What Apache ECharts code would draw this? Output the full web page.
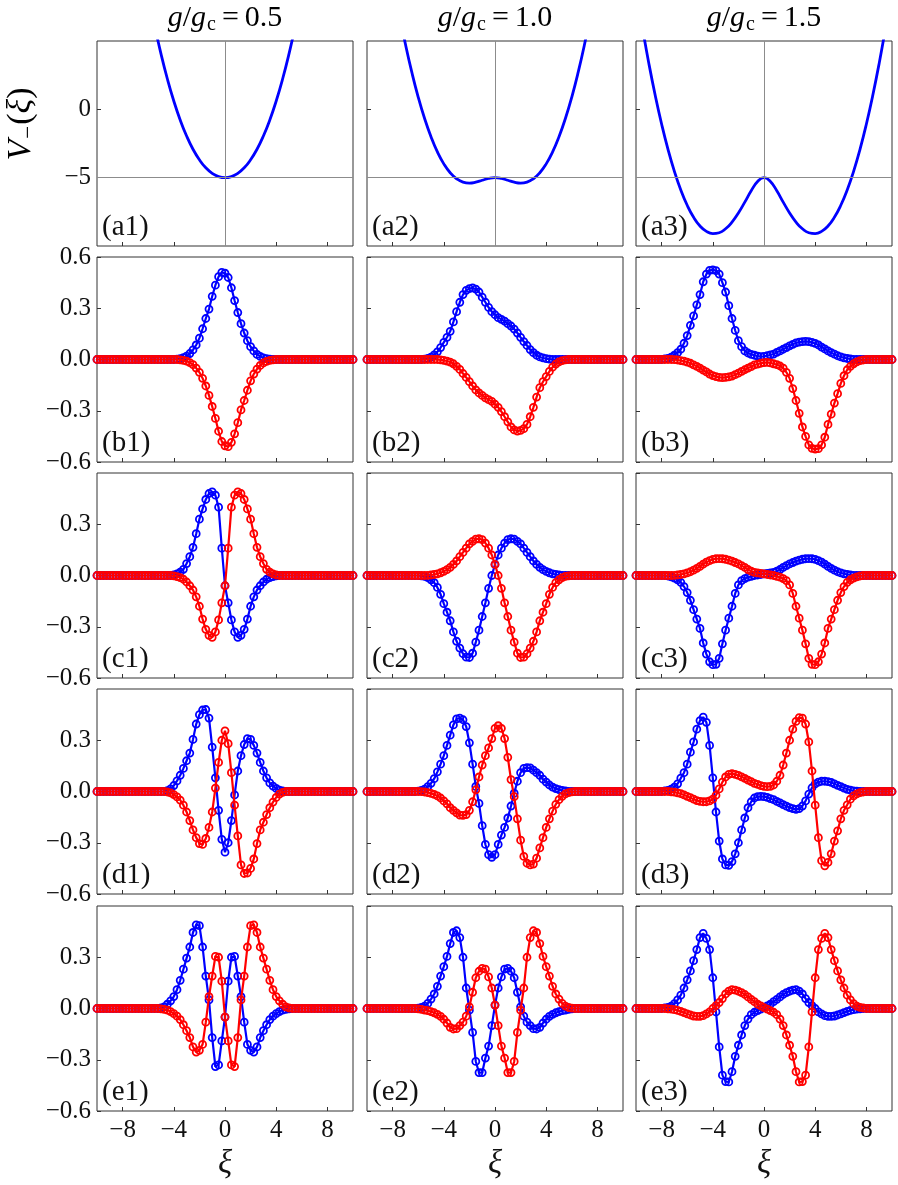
<!DOCTYPE html>
<html lang="en">
<head>
    <meta charset="UTF-8">
    <title>V_-(xi) and wavefunctions</title>
    <script src="https://cdn.jsdelivr.net/npm/echarts@6/dist/echarts.min.js"></script>
    <style>
        html, body { margin: 0; padding: 0; background: #fff; }
        #main { width: 898px; height: 1185px; }
    </style>
</head>
<body>

<div id="main"></div>

<script type="text/javascript">
    // grid of xi values (step 0.25) used by all wavefunction curves
    var xi = [
        -10,-9.75,-9.5,-9.25, -9,-8.75,-8.5,-8.25, -8,-7.75,-7.5,-7.25, -7,-6.75,-6.5,-6.25, -6,-5.75,-5.5,-5.25,
        -5,-4.75,-4.5,-4.25, -4,-3.75,-3.5,-3.25, -3,-2.75,-2.5,-2.25, -2,-1.75,-1.5,-1.25, -1,-0.75,-0.5,-0.25,
        0,0.25,0.5,0.75, 1,1.25,1.5,1.75, 2,2.25,2.5,2.75, 3,3.25,3.5,3.75, 4,4.25,4.5,4.75,
        5,5.25,5.5,5.75, 6,6.25,6.5,6.75, 7,7.25,7.5,7.75, 8,8.25,8.5,8.75, 9,9.25,9.5,9.75, 10
    ];

    // grid for the potentials (step 0.5)
    var xiPot = [-10,-9.5,-9,-8.5,-8,-7.5,-7,-6.5,-6,-5.5,-5,-4.5,-4,-3.5,-3,-2.5,-2,-1.5,-1,-0.5,
        0,0.5,1,1.5,2,2.5,3,3.5,4,4.5,5,5.5,6,6.5,7,7.5,8,8.5,9,9.5,10];

    var potA1 = [35.51,31.27,27.28,23.53,20.03,16.76,13.75,10.97,8.43,6.13,4.06,2.22,0.61,-0.78,-1.95,-2.92,-3.69,-4.28,-4.68,-4.92,
        -5,-4.92,-4.68,-4.28,-3.69,-2.92,-1.95,-0.78,0.61,2.22,4.06,6.13,8.43,10.97,13.75,16.76,20.03,23.53,27.28,31.27,35.51];
    var potA2 = [22.3,18.76,15.47,12.43,9.64,7.09,4.78,2.72,0.90,-0.67,-2.01,-3.12,-3.99,-4.64,-5.08,-5.33,-5.40,-5.33,-5.19,-5.06,
        -5,-5.06,-5.19,-5.33,-5.40,-5.33,-5.08,-4.64,-3.99,-3.12,-2.01,-0.67,0.90,2.72,4.78,7.09,9.64,12.43,15.47,18.76,22.3];
    var potA3 = [8.83,5.98,3.38,1.03,-1.07,-2.93,-4.54,-5.90,-7.02,-7.90,-8.54,-8.93,-9.09,-9.03,-8.74,-8.25,-7.58,-6.79,-5.96,-5.28,
        -5,-5.28,-5.96,-6.79,-7.58,-8.25,-8.74,-9.03,-9.09,-8.93,-8.54,-7.90,-7.02,-5.90,-4.54,-2.93,-1.07,1.03,3.38,5.98,8.83];

    // ---- column 1 : g/gc = 0.5 ----
    var blueB1 = [
        0,0,0,0, 0,0,0,0, 0,0,0,0, 0,0,0,0, 0,0,0,0,
        0,0,0,0, 0,0.002,0.005,0.011, 0.02,0.035,0.056,0.085, 0.125,0.18,0.24,0.295, 0.37,0.435,0.485,0.51,
        0.505,0.48,0.42,0.345, 0.275,0.21,0.155,0.11, 0.075,0.05,0.03,0.018, 0.01,0.005,0.002,0, 0,0,0,0,
        0,0,0,0, 0,0,0,0, 0,0,0,0, 0,0,0,0, 0,0,0,0, 0];
    var redB1 = [
        0,0,0,0, 0,0,0,0, 0,0,0,0, 0,0,0,0, 0,0,0,0,
        0,0,0,0, 0,0,-0.002,-0.005, -0.01,-0.018,-0.03,-0.05, -0.075,-0.11,-0.155,-0.21, -0.275,-0.345,-0.42,-0.48,
        -0.505,-0.51,-0.485,-0.435, -0.37,-0.295,-0.24,-0.18, -0.125,-0.085,-0.056,-0.035, -0.02,-0.011,-0.005,-0.002, 0,0,0,0,
        0,0,0,0, 0,0,0,0, 0,0,0,0, 0,0,0,0, 0,0,0,0, 0];
    var blueC1 = [
        0,0,0,0, 0,0,0,0, 0,0,0,0, 0,0,0,0, 0,0,0,0,
        0,0,0,0, 0.003,0.01,0.02,0.036, 0.07,0.11,0.165,0.245, 0.33,0.39,0.445,0.48, 0.49,0.47,0.40,0.16,
        -0.06,-0.16,-0.26,-0.33, -0.362,-0.35,-0.315,-0.255, -0.18,-0.125,-0.085,-0.06, -0.038,-0.022,-0.012,-0.006, -0.002,0,0,0,
        0,0,0,0, 0,0,0,0, 0,0,0,0, 0,0,0,0, 0,0,0,0, 0];
    var redC1 = [
        0,0,0,0, 0,0,0,0, 0,0,0,0, 0,0,0,0, 0,0,0,0,
        0,0,0,0, -0.002,-0.006,-0.012,-0.022, -0.038,-0.06,-0.085,-0.125, -0.18,-0.255,-0.315,-0.35, -0.362,-0.33,-0.26,-0.16,
        -0.06,0.16,0.40,0.47, 0.49,0.48,0.445,0.39, 0.33,0.245,0.165,0.11, 0.07,0.036,0.02,0.01, 0.003,0,0,0,
        0,0,0,0, 0,0,0,0, 0,0,0,0, 0,0,0,0, 0,0,0,0, 0];
    var blueD1 = [
        0,0,0,0, 0,0,0,0, 0,0,0,0, 0,0,0,0, 0,0,0,0,
        0,0,0.005,0.015, 0.035,0.062,0.095,0.135, 0.18,0.225,0.305,0.395, 0.45,0.477,0.48,0.43, 0.26,0.08,-0.11,-0.28,
        -0.355,-0.30,-0.17,-0.02, 0.12,0.21,0.275,0.31, 0.305,0.27,0.225,0.17, 0.12,0.08,0.05,0.032, 0.018,0.008,0.003,0,
        0,0,0,0, 0,0,0,0, 0,0,0,0, 0,0,0,0, 0,0,0,0, 0];
    var redD1 = [
        0,0,0,0, 0,0,0,0, 0,0,0,0, 0,0,0,0, 0,0,0,0,
        0,0,-0.003,-0.008, -0.018,-0.032,-0.05,-0.08, -0.12,-0.17,-0.225,-0.27, -0.305,-0.31,-0.275,-0.21, -0.12,0.02,0.17,0.30,
        0.355,0.28,0.11,-0.08, -0.26,-0.43,-0.48,-0.477, -0.45,-0.395,-0.305,-0.225, -0.18,-0.135,-0.095,-0.062, -0.035,-0.015,-0.005,0,
        0,0,0,0, 0,0,0,0, 0,0,0,0, 0,0,0,0, 0,0,0,0, 0];
    var blueE1 = [
        0,0,0,0, 0,0,0,0, 0,0,0,0, 0,0,0,0, 0,0,0,0,
        0.003,0.01,0.025,0.045, 0.07,0.11,0.165,0.23, 0.295,0.36,0.445,0.49, 0.485,0.36,0.19,0.05, -0.17,-0.34,-0.33,-0.19,
        -0.05,0.16,0.30,0.305, 0.19,0.07,-0.08,-0.21, -0.245,-0.255,-0.225,-0.17, -0.13,-0.095,-0.065,-0.045, -0.03,-0.018,-0.01,-0.005,
        -0.002,0,0,0, 0,0,0,0, 0,0,0,0, 0,0,0,0, 0,0,0,0, 0];
    var redE1 = [
        0,0,0,0, 0,0,0,0, 0,0,0,0, 0,0,0,0, 0,0,0,0,
        -0.002,-0.005,-0.01,-0.018, -0.03,-0.045,-0.065,-0.095, -0.13,-0.17,-0.225,-0.255, -0.245,-0.21,-0.08,0.07, 0.19,0.305,0.30,0.16,
        -0.05,-0.19,-0.33,-0.34, -0.17,0.05,0.19,0.36, 0.485,0.49,0.445,0.36, 0.295,0.23,0.165,0.11, 0.07,0.045,0.025,0.01,
        0.003,0,0,0, 0,0,0,0, 0,0,0,0, 0,0,0,0, 0,0,0,0, 0];

    // ---- column 2 : g/gc = 1.0 ----
    var blueB2 = [
        0,0,0,0, 0,0,0,0, 0,0,0,0, 0,0,0,0, 0,0,0.002,0.006,
        0.014,0.027,0.045,0.07, 0.1,0.13,0.165,0.22, 0.28,0.335,0.38,0.405, 0.415,0.419,0.412,0.395, 0.365,0.335,0.305,0.28,
        0.262,0.245,0.235,0.225, 0.21,0.196,0.178,0.155, 0.13,0.105,0.082,0.058, 0.04,0.025,0.015,0.009, 0.005,0.002,0,0,
        0,0,0,0, 0,0,0,0, 0,0,0,0, 0,0,0,0, 0,0,0,0, 0];
    var redB2 = [
        0,0,0,0, 0,0,0,0, 0,0,0,0, 0,0,0,0, 0,0,0,0,
        0,0,0,-0.002, -0.005,-0.009,-0.015,-0.025, -0.04,-0.058,-0.082,-0.105, -0.13,-0.155,-0.178,-0.196, -0.21,-0.225,-0.235,-0.245,
        -0.262,-0.28,-0.305,-0.335, -0.365,-0.395,-0.412,-0.419, -0.415,-0.405,-0.38,-0.335, -0.28,-0.22,-0.165,-0.13, -0.1,-0.07,-0.045,-0.027,
        -0.014,-0.006,-0.002,0, 0,0,0,0, 0,0,0,0, 0,0,0,0, 0,0,0,0, 0];
    var blueC2 = [
        0,0,0,0, 0,0,0,0, 0,0,0,0, 0,0,0,0, 0,-0.002,-0.005,-0.012,
        -0.025,-0.042,-0.07,-0.11, -0.165,-0.215,-0.265,-0.33, -0.385,-0.425,-0.458,-0.478, -0.48,-0.455,-0.39,-0.32, -0.24,-0.16,-0.075,0,
        0.065,0.12,0.16,0.19, 0.21,0.215,0.213,0.2, 0.185,0.16,0.135,0.11, 0.085,0.065,0.048,0.034, 0.024,0.016,0.01,0.006,
        0.003,0.001,0,0, 0,0,0,0, 0,0,0,0, 0,0,0,0, 0,0,0,0, 0];
    var redC2 = [
        0,0,0,0, 0,0,0,0, 0,0,0,0, 0,0,0,0, 0,0,0,0.001,
        0.003,0.006,0.01,0.016, 0.024,0.034,0.048,0.065, 0.085,0.11,0.135,0.16, 0.185,0.2,0.213,0.215, 0.21,0.19,0.16,0.12,
        0.065,0,-0.075,-0.16, -0.24,-0.32,-0.39,-0.455, -0.48,-0.478,-0.458,-0.425, -0.385,-0.33,-0.265,-0.215, -0.165,-0.11,-0.07,-0.042,
        -0.025,-0.012,-0.005,-0.002, 0,0,0,0, 0,0,0,0, 0,0,0,0, 0,0,0,0, 0];
    var blueD2 = [
        0,0,0,0, 0,0,0,0, 0,0,0,0, 0,0,0,0, 0.002,0.006,0.014,0.028,
        0.048,0.075,0.115,0.16, 0.21,0.27,0.33,0.39, 0.425,0.43,0.42,0.38, 0.285,0.16,0.03,-0.07, -0.2,-0.31,-0.37,-0.385,
        -0.37,-0.31,-0.255,-0.21, -0.155,-0.085,-0.01,0.06, 0.11,0.135,0.14,0.138, 0.125,0.11,0.095,0.072, 0.055,0.038,0.026,0.017,
        0.011,0.006,0.003,0.001, 0,0,0,0, 0,0,0,0, 0,0,0,0, 0,0,0,0, 0];
    var redD2 = [
        0,0,0,0, 0,0,0,0, 0,0,0,0, 0,0,0,0, 0,-0.001,-0.003,-0.006,
        -0.011,-0.017,-0.026,-0.038, -0.055,-0.072,-0.095,-0.11, -0.125,-0.138,-0.14,-0.135, -0.11,-0.06,0.01,0.085, 0.155,0.21,0.255,0.31,
        0.37,0.385,0.37,0.31, 0.2,0.07,-0.03,-0.16, -0.285,-0.38,-0.42,-0.43, -0.425,-0.39,-0.33,-0.27, -0.21,-0.16,-0.115,-0.075,
        -0.048,-0.028,-0.014,-0.006, -0.002,0,0,0, 0,0,0,0, 0,0,0,0, 0,0,0,0, 0];
    var blueE2 = [
        0,0,0,0, 0,0,0,0, 0,0,0,0, 0,0,0,0, 0.002,0.006,0.014,0.03,
        0.055,0.085,0.13,0.19, 0.245,0.305,0.38,0.445, 0.455,0.415,0.30,0.12, -0.01,-0.14,-0.31,-0.375, -0.375,-0.29,-0.22,-0.1,
        0.02,0.12,0.185,0.23, 0.235,0.218,0.18,0.095, 0.01,-0.045,-0.08,-0.1, -0.118,-0.12,-0.11,-0.085, -0.063,-0.046,-0.034,-0.025,
        -0.018,-0.013,-0.009,-0.005, -0.002,0,0,0, 0,0,0,0, 0,0,0,0, 0,0,0,0, 0];
    var redE2 = [
        0,0,0,0, 0,0,0,0, 0,0,0,0, 0,0,0,0, -0.002,-0.005,-0.009,-0.013,
        -0.018,-0.025,-0.034,-0.046, -0.063,-0.085,-0.11,-0.12, -0.118,-0.1,-0.08,-0.045, 0.01,0.095,0.18,0.218, 0.235,0.23,0.185,0.12,
        0.02,-0.1,-0.22,-0.29, -0.375,-0.375,-0.31,-0.14, -0.01,0.12,0.30,0.415, 0.455,0.445,0.38,0.305, 0.245,0.19,0.13,0.085,
        0.055,0.03,0.014,0.006, 0.002,0,0,0, 0,0,0,0, 0,0,0,0, 0,0,0,0, 0];

    // ---- column 3 : g/gc = 1.5 ----
    var blueB3 = [
        0,0,0,0, 0,0,0,0, 0,0.003,0.007,0.014, 0.025,0.04,0.06,0.095, 0.14,0.2,0.255,0.32,
        0.38,0.455,0.5,0.522, 0.525,0.52,0.5,0.45, 0.395,0.315,0.24,0.17, 0.11,0.075,0.05,0.038, 0.03,0.025,0.02,0.017,
        0.018,0.022,0.027,0.032, 0.042,0.05,0.06,0.07, 0.08,0.089,0.097,0.102, 0.105,0.106,0.105,0.1, 0.094,0.085,0.073,0.062,
        0.05,0.04,0.031,0.022, 0.015,0.01,0.006,0.003, 0.001,0,0,0, 0,0,0,0, 0,0,0,0, 0];
    var redB3 = [
        0,0,0,0, 0,0,0,0, 0,0,0,0, -0.001,-0.003,-0.006,-0.01, -0.015,-0.022,-0.031,-0.04,
        -0.05,-0.062,-0.073,-0.085, -0.094,-0.1,-0.105,-0.106, -0.105,-0.102,-0.097,-0.089, -0.08,-0.07,-0.06,-0.05, -0.042,-0.032,-0.027,-0.022,
        -0.018,-0.017,-0.02,-0.025, -0.03,-0.038,-0.05,-0.075, -0.11,-0.17,-0.24,-0.315, -0.395,-0.45,-0.5,-0.52, -0.525,-0.522,-0.5,-0.455,
        -0.38,-0.32,-0.255,-0.2, -0.14,-0.095,-0.06,-0.04, -0.025,-0.014,-0.007,-0.003, 0,0,0,0, 0,0,0,0, 0];
    var blueC3 = [
        0,0,0,0, 0,0,0,0, 0,0,-0.003,-0.008, -0.015,-0.025,-0.04,-0.065, -0.1,-0.145,-0.2,-0.255,
        -0.31,-0.395,-0.46,-0.505, -0.522,-0.52,-0.485,-0.4, -0.32,-0.25,-0.18,-0.105, -0.055,-0.03,-0.018,-0.01, -0.005,0,0.003,0.006,
        0.009,0.012,0.015,0.018, 0.025,0.035,0.047,0.058, 0.068,0.076,0.084,0.09, 0.095,0.098,0.099,0.098, 0.094,0.087,0.078,0.067,
        0.054,0.042,0.031,0.022, 0.015,0.01,0.006,0.003, 0.001,0,0,0, 0,0,0,0, 0,0,0,0, 0];
    var redC3 = [
        0,0,0,0, 0,0,0,0, 0,0,0,0, 0.001,0.003,0.006,0.01, 0.015,0.022,0.031,0.042,
        0.054,0.067,0.078,0.087, 0.094,0.098,0.099,0.098, 0.095,0.09,0.084,0.076, 0.068,0.058,0.047,0.035, 0.025,0.018,0.015,0.012,
        0.009,0.006,0.003,0, -0.005,-0.01,-0.018,-0.03, -0.055,-0.105,-0.18,-0.25, -0.32,-0.4,-0.485,-0.52, -0.522,-0.505,-0.46,-0.395,
        -0.31,-0.255,-0.2,-0.145, -0.1,-0.065,-0.04,-0.025, -0.015,-0.008,-0.003,0, 0,0,0,0, 0,0,0,0, 0];
    var blueD3 = [
        0,0,0,0, 0,0,0,0, 0,0.003,0.007,0.014, 0.026,0.045,0.078,0.11, 0.16,0.23,0.29,0.365,
        0.415,0.435,0.405,0.27, 0.08,-0.12,-0.29,-0.395, -0.43,-0.432,-0.41,-0.365, -0.3,-0.225,-0.155,-0.095, -0.06,-0.038,-0.03,-0.028,
        -0.03,-0.034,-0.042,-0.048, -0.058,-0.067,-0.077,-0.086, -0.094,-0.1,-0.105,-0.1, -0.085,-0.055,-0.015,0.022, 0.045,0.055,0.06,0.06,
        0.058,0.053,0.045,0.036, 0.028,0.02,0.013,0.008, 0.004,0.002,0,0, 0,0,0,0, 0,0,0,0, 0];
    var redD3 = [
        0,0,0,0, 0,0,0,0, 0,0,0,-0.002, -0.004,-0.008,-0.013,-0.02, -0.028,-0.036,-0.045,-0.053,
        -0.058,-0.06,-0.06,-0.055, -0.045,-0.022,0.015,0.055, 0.085,0.1,0.105,0.1, 0.094,0.086,0.077,0.067, 0.058,0.048,0.042,0.034,
        0.03,0.028,0.03,0.038, 0.06,0.095,0.155,0.225, 0.3,0.365,0.41,0.432, 0.43,0.395,0.29,0.12, -0.08,-0.27,-0.405,-0.435,
        -0.415,-0.365,-0.29,-0.23, -0.16,-0.11,-0.078,-0.045, -0.026,-0.014,-0.007,-0.003, 0,0,0,0, 0,0,0,0, 0];
    var blueE3 = [
        0,0,0,0, 0,0,0,0, 0,0.003,0.007,0.014, 0.028,0.05,0.078,0.12, 0.168,0.22,0.28,0.345,
        0.415,0.44,0.41,0.345, 0.18,-0.02,-0.225,-0.39, -0.428,-0.43,-0.37,-0.28, -0.215,-0.155,-0.1,-0.062, -0.036,-0.022,-0.012,-0.004,
        0.005,0.015,0.025,0.04, 0.054,0.068,0.082,0.093, 0.101,0.108,0.111,0.102, 0.085,0.058,0.035,0.017, 0,-0.02,-0.032,-0.042,
        -0.046,-0.046,-0.044,-0.038, -0.032,-0.024,-0.017,-0.011, -0.007,-0.004,-0.002,0, 0,0,0,0, 0,0,0,0, 0];
    var redE3 = [
        0,0,0,0, 0,0,0,0, 0,0,-0.002,-0.004, -0.007,-0.011,-0.017,-0.024, -0.032,-0.038,-0.044,-0.046,
        -0.046,-0.042,-0.032,-0.02, 0,0.017,0.035,0.058, 0.085,0.102,0.111,0.108, 0.101,0.093,0.082,0.068, 0.054,0.04,0.025,0.015,
        0.005,-0.004,-0.012,-0.022, -0.036,-0.062,-0.1,-0.155, -0.215,-0.28,-0.37,-0.43, -0.428,-0.39,-0.225,-0.02, 0.18,0.345,0.41,0.44,
        0.415,0.345,0.28,0.22, 0.168,0.12,0.078,0.05, 0.028,0.014,0.007,0.003, 0,0,0,0, 0,0,0,0, 0];

    var couplings = ['0.5', '1.0', '1.5'];
    var rowLetters = ['a', 'b', 'c', 'd', 'e'];
    var xTicks = [-8, -4, 0, 4, 8];
    var potTicks = [-5, 0];

    // layout of the 5 x 3 panels
    var colLeft = [97, 367, 636];
    var rowTop = [41, 257, 473, 689, 906];
    var panelW = 256, panelH = 205;

    var BLUE = '#0000ff', RED = '#ff0000';
    var serif = '"Liberation Serif", "DejaVu Serif", serif';
    var tickFont = 25;

    var potentials = [potA1, potA2, potA3];
    var waves = [
        [[blueB1, redB1], [blueB2, redB2], [blueB3, redB3]],
        [[blueC1, redC1], [blueC2, redC2], [blueC3, redC3]],
        [[blueD1, redD1], [blueD2, redD2], [blueD3, redD3]],
        [[blueE1, redE1], [blueE2, redE2], [blueE3, redE3]]
    ];

    function minus(v, digits) {
        var r = Math.round(v * 10) / 10;
        var s = digits ? Math.abs(r).toFixed(digits) : String(Math.abs(r));
        return (r < 0 ? '\u2212' : '') + s;
    }

    function pairs(xs, ys) {
        return xs.map(function (x, i) { return [x, ys[i]]; });
    }

    var grids = [], xAxes = [], yAxes = [], series = [], graphics = [];
    var bad = [];

    for (var r = 0; r < 5; r++) {
        for (var c = 0; c < 3; c++) {
            var idx = r * 3 + c;
            grids.push({
                left: colLeft[c], top: rowTop[r], width: panelW, height: panelH,
                show: true, borderColor: '#333', borderWidth: 1, backgroundColor: 'transparent',
                outerBoundsMode: 'none'
            });
            xAxes.push({
                gridIndex: idx, type: 'value', min: -10, max: 10, position: 'bottom',
                axisLine: {show: false, onZero: false},
                axisTick: {show: true, inside: true, length: 4, customValues: xTicks, lineStyle: {color: '#333'}},
                axisLabel: {
                    show: r === 4, customValues: xTicks, margin: 7,
                    fontFamily: serif, fontSize: tickFont, color: '#111',
                    formatter: function (v) { return minus(v, 0); }
                },
                splitLine: {show: false}
            });
            if (r === 0) {
                yAxes.push({
                    gridIndex: idx, type: 'value', min: -10, max: 5, position: 'left',
                    axisLine: {show: false, onZero: false},
                    axisTick: {show: true, inside: true, length: 4, customValues: potTicks, lineStyle: {color: '#333'}},
                    axisLabel: {
                        show: c === 0, customValues: potTicks, margin: 6,
                        fontFamily: serif, fontSize: tickFont, color: '#111',
                        formatter: function (v) { return minus(v, 0); }
                    },
                    splitLine: {show: false}
                });
                // grey guide lines at xi = 0 and V = -5
                series.push({
                    type: 'line', xAxisIndex: idx, yAxisIndex: idx, data: [], z: 1, silent: true,
                    markLine: {
                        silent: true, symbol: 'none', animation: false,
                        label: {show: false},
                        lineStyle: {color: '#8c8c8c', width: 1, type: 'solid'},
                        data: [{xAxis: 0}, {yAxis: -5}]
                    }
                });
                series.push({
                    type: 'line', xAxisIndex: idx, yAxisIndex: idx, z: 3,
                    data: pairs(xiPot, potentials[c]),
                    smooth: true, showSymbol: false, clip: true,
                    lineStyle: {color: BLUE, width: 2.8}
                });
            } else {
                yAxes.push({
                    gridIndex: idx, type: 'value', min: -0.6, max: 0.6, interval: 0.3, position: 'left',
                    axisLine: {show: false, onZero: false},
                    axisTick: {show: true, inside: true, length: 4, lineStyle: {color: '#333'}},
                    axisLabel: {
                        show: c === 0, showMaxLabel: r === 1, margin: 6,
                        fontFamily: serif, fontSize: tickFont, color: '#111',
                        formatter: function (v) { return minus(v, 1); }
                    },
                    splitLine: {show: false}
                });
                var pair = waves[r - 1][c];
                [BLUE, RED].forEach(function (col, k) {
                    if (pair[k].length !== xi.length) bad.push(rowLetters[r] + (c + 1) + (k ? 'red' : 'blue') + ':' + pair[k].length);
                    series.push({
                        type: 'line', xAxisIndex: idx, yAxisIndex: idx, z: 3 + k,
                        data: pairs(xi, pair[k]),
                        symbol: 'circle', symbolSize: 7, showAllSymbol: true,
                        itemStyle: {color: 'rgba(0,0,0,0)', borderColor: col, borderWidth: 1.8},
                        lineStyle: {color: col, width: 2.2}
                    });
                });
            }
            // panel tag, e.g. (a1)
            graphics.push({
                type: 'text', x: colLeft[c] + 5, y: rowTop[r] + panelH - 19, z: 10,
                style: {
                    text: '(' + rowLetters[r] + (c + 1) + ')',
                    fontFamily: serif, fontSize: 29, fill: '#111',
                    align: 'left', verticalAlign: 'middle'
                }
            });
        }
    }

    var rich = {
        it: {fontFamily: serif, fontStyle: 'italic', fontSize: 30, color: '#111'},
        rm: {fontFamily: serif, fontSize: 30, color: '#111'},
        eq: {fontFamily: serif, fontSize: 30, color: '#111', padding: [0, 6, 0, 6]},
        sub: {fontFamily: serif, fontSize: 20, color: '#111', padding: [14, 0, 0, 1]}
    };
    var richV = {
        it: {fontFamily: serif, fontStyle: 'italic', fontSize: 34, color: '#111'},
        rm: {fontFamily: serif, fontSize: 34, color: '#111'},
        sub: {fontFamily: serif, fontSize: 23, color: '#111', padding: [16, 1, 0, 1]}
    };

    for (var c2 = 0; c2 < 3; c2++) {
        var cx = colLeft[c2] + panelW / 2;
        graphics.push({
            type: 'text', x: cx, y: 18,
            style: {
                text: '{it|g}{rm|/}{it|g}{sub|c}{eq|=}{rm|' + couplings[c2] + '}',
                rich: rich, align: 'center', verticalAlign: 'middle'
            }
        });
        graphics.push({
            type: 'text', x: cx, y: 1164,
            style: {
                text: 'ξ', fontFamily: serif, fontStyle: 'italic', fontSize: 33, fill: '#111',
                align: 'center', verticalAlign: 'middle'
            }
        });
    }

    graphics.push({
        type: 'text', x: 21, y: 124, rotation: Math.PI / 2,
        style: {
            text: '{it|V}{sub|\u2212}{rm|(}{it|ξ}{rm|)}',
            rich: richV, align: 'center', verticalAlign: 'middle'
        }
    });

    if (bad.length) {
        graphics.push({type: 'text', x: 450, y: 600, z: 100,
            style: {text: 'LEN ' + bad.join(' '), fontSize: 16, fill: '#f0f', align: 'center'}});
    }

    var myChart = echarts.init(document.getElementById('main'), null, {renderer: 'canvas'});
    myChart.setOption({
        animation: false,
        backgroundColor: '#fff',
        grid: grids,
        xAxis: xAxes,
        yAxis: yAxes,
        series: series,
        graphic: graphics
    });
</script>

</body>
</html>
